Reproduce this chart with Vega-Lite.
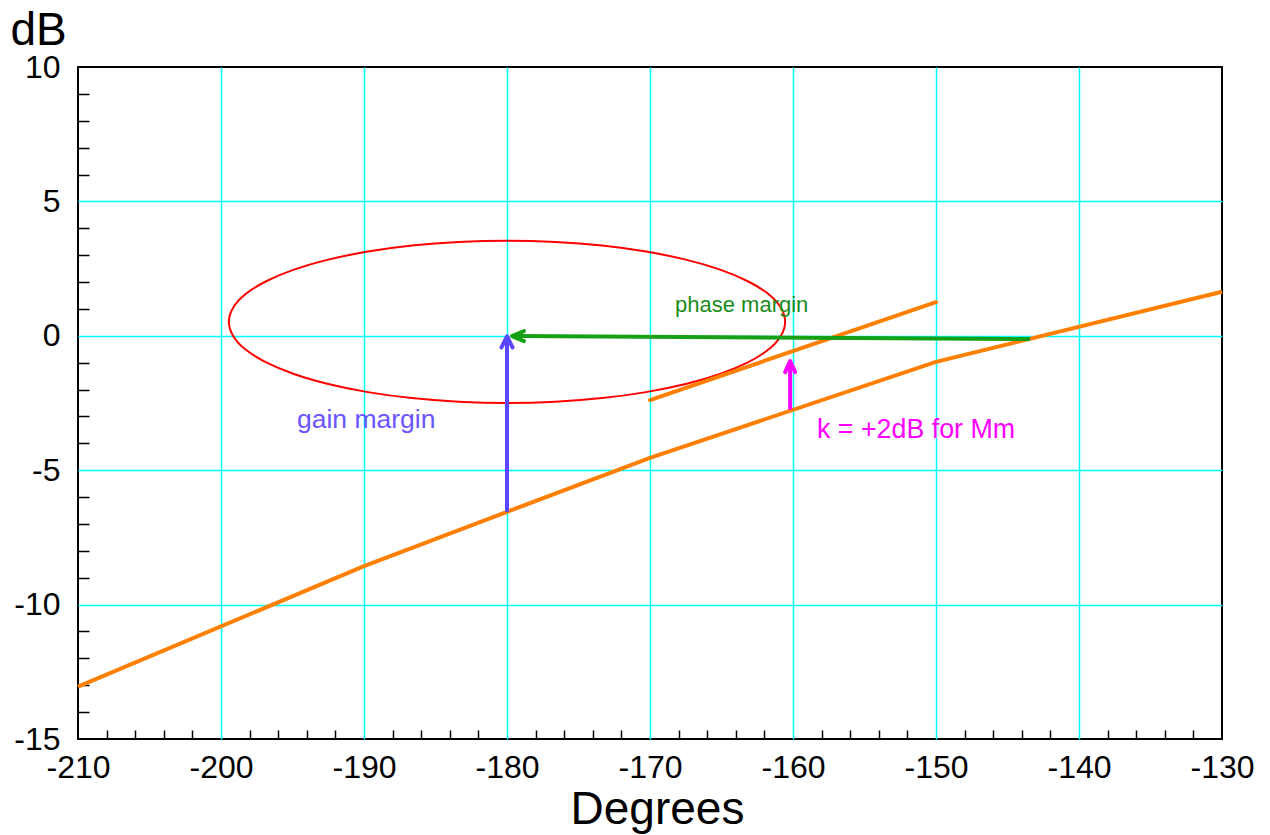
{
  "$schema": "https://vega.github.io/schema/vega-lite/v6.json",
  "width": 1144,
  "height": 672,
  "autosize": {"type": "none"},
  "padding": {"left": 78, "top": 67, "right": 48, "bottom": 96},
  "background": "white",
  "config": {"view": {"stroke": "#000000", "strokeWidth": 2}, "font": "Liberation Sans"},
  "datasets": {
    "curve": [
      {"name": "curve", "x": -210, "y": -13.05},
      {"name": "curve", "x": -190, "y": -8.57},
      {"name": "curve", "x": -180, "y": -6.55},
      {"name": "curve", "x": -170, "y": -4.54},
      {"name": "curve", "x": -150, "y": -0.97},
      {"name": "curve", "x": -130, "y": 1.64}
    ],
    "shifted": [
      {"name": "shifted", "x": -170, "y": -2.39},
      {"name": "shifted", "x": -150, "y": 1.25}
    ],
    "ellipse": [
      {"name": "ellipse", "i": 0, "x": -160.55, "y": 0.52},
      {"name": "ellipse", "i": 1, "x": -160.85, "y": 1.044},
      {"name": "ellipse", "i": 2, "x": -161.72, "y": 1.553},
      {"name": "ellipse", "i": 3, "x": -163.16, "y": 2.03},
      {"name": "ellipse", "i": 4, "x": -165.10, "y": 2.461},
      {"name": "ellipse", "i": 5, "x": -167.50, "y": 2.833},
      {"name": "ellipse", "i": 6, "x": -170.28, "y": 3.135},
      {"name": "ellipse", "i": 7, "x": -173.35, "y": 3.358},
      {"name": "ellipse", "i": 8, "x": -176.62, "y": 3.494},
      {"name": "ellipse", "i": 9, "x": -180.00, "y": 3.54},
      {"name": "ellipse", "i": 10, "x": -183.38, "y": 3.494},
      {"name": "ellipse", "i": 11, "x": -186.65, "y": 3.358},
      {"name": "ellipse", "i": 12, "x": -189.73, "y": 3.135},
      {"name": "ellipse", "i": 13, "x": -192.50, "y": 2.833},
      {"name": "ellipse", "i": 14, "x": -194.90, "y": 2.461},
      {"name": "ellipse", "i": 15, "x": -196.84, "y": 2.03},
      {"name": "ellipse", "i": 16, "x": -198.28, "y": 1.553},
      {"name": "ellipse", "i": 17, "x": -199.15, "y": 1.044},
      {"name": "ellipse", "i": 18, "x": -199.45, "y": 0.52},
      {"name": "ellipse", "i": 19, "x": -199.15, "y": -0.004},
      {"name": "ellipse", "i": 20, "x": -198.28, "y": -0.513},
      {"name": "ellipse", "i": 21, "x": -196.84, "y": -0.99},
      {"name": "ellipse", "i": 22, "x": -194.90, "y": -1.421},
      {"name": "ellipse", "i": 23, "x": -192.50, "y": -1.793},
      {"name": "ellipse", "i": 24, "x": -189.73, "y": -2.095},
      {"name": "ellipse", "i": 25, "x": -186.65, "y": -2.318},
      {"name": "ellipse", "i": 26, "x": -183.38, "y": -2.454},
      {"name": "ellipse", "i": 27, "x": -180.00, "y": -2.50},
      {"name": "ellipse", "i": 28, "x": -176.62, "y": -2.454},
      {"name": "ellipse", "i": 29, "x": -173.35, "y": -2.318},
      {"name": "ellipse", "i": 30, "x": -170.28, "y": -2.095},
      {"name": "ellipse", "i": 31, "x": -167.50, "y": -1.793},
      {"name": "ellipse", "i": 32, "x": -165.10, "y": -1.421},
      {"name": "ellipse", "i": 33, "x": -163.16, "y": -0.99},
      {"name": "ellipse", "i": 34, "x": -161.72, "y": -0.513},
      {"name": "ellipse", "i": 35, "x": -160.85, "y": -0.004}
    ],
    "arrows": [
      {"name": "gain", "x": -180, "y": -6.55},
      {"name": "gain", "x": -180, "y": -0.15},
      {"name": "phase", "x": -143.43, "y": -0.12},
      {"name": "phase", "x": -179.4, "y": -0.01},
      {"name": "k", "x": -160.2, "y": -2.75},
      {"name": "k", "x": -160.2, "y": -1.05}
    ],
    "heads": [
      {"name": "gain", "x": -180, "y": -0.02},
      {"name": "phase", "x": -179.65, "y": -0.01},
      {"name": "k", "x": -160.2, "y": -0.94}
    ],
    "labels": [
      {"name": "phase text", "x": -168.25, "y": 0.885, "label": "phase margin"},
      {"name": "gain text", "x": -194.69, "y": -3.43, "label": "gain margin"},
      {"name": "k text", "x": -158.32, "y": -3.8, "label": "k = +2dB for Mm"}
    ]
  },
  "encoding": {
    "x": {
      "field": "x",
      "type": "quantitative",
      "scale": {"domain": [-210, -130], "nice": false, "zero": false},
      "axis": {
        "values": [-210,-208,-206,-204,-202,-200,-198,-196,-194,-192,-190,-188,-186,-184,-182,-180,-178,-176,-174,-172,-170,-168,-166,-164,-162,-160,-158,-156,-154,-152,-150,-148,-146,-144,-142,-140,-138,-136,-134,-132,-130],
        "labelExpr": "datum.value % 10 === 0 ? '' + datum.value : ''",
        "labelFont": "Liberation Sans",
        "labelFontSize": 32,
        "labelColor": "#000000",
        "labelPadding": 22,
        "labelFlush": false,
        "labelOverlap": false,
        "labelBound": false,
        "tickSize": -9,
        "tickColor": "#000000",
        "tickWidth": 1.5,
        "tickOpacity": {"condition": {"test": "datum.value % 10 === 0", "value": 0}, "value": 1},
        "grid": true,
        "gridColor": "#00ffff",
        "gridWidth": 1.5,
        "gridOpacity": {"condition": {"test": "datum.value % 10 === 0 && datum.value > -210 && datum.value < -130", "value": 1}, "value": 0},
        "domain": false,
        "title": "Degrees",
        "titleFont": "Liberation Sans",
        "titleFontSize": 46,
        "titleFontWeight": "normal",
        "titleColor": "#000000",
        "titleAlign": "center",
        "titleBaseline": "alphabetic",
        "titleX": 579,
        "titleY": 84
      }
    },
    "y": {
      "field": "y",
      "type": "quantitative",
      "scale": {"domain": [-15, 10], "nice": false, "zero": false},
      "axis": {
        "values": [-15,-14,-13,-12,-11,-10,-9,-8,-7,-6,-5,-4,-3,-2,-1,0,1,2,3,4,5,6,7,8,9,10],
        "labelExpr": "datum.value % 5 === 0 ? '' + datum.value : ''",
        "labelFont": "Liberation Sans",
        "labelFontSize": 32,
        "labelColor": "#000000",
        "labelPadding": 29,
        "labelFlush": false,
        "labelOverlap": false,
        "labelBound": false,
        "tickSize": -11,
        "tickColor": "#000000",
        "tickWidth": 1.5,
        "tickOpacity": {"condition": {"test": "datum.value % 5 === 0", "value": 0}, "value": 1},
        "grid": true,
        "gridColor": "#00ffff",
        "gridWidth": 1.5,
        "gridOpacity": {"condition": {"test": "datum.value % 5 === 0 && datum.value > -15 && datum.value < 10", "value": 1}, "value": 0},
        "domain": false,
        "title": "dB",
        "titleFont": "Liberation Sans",
        "titleFontSize": 46,
        "titleFontWeight": "normal",
        "titleColor": "#000000",
        "titleAngle": 0,
        "titleAlign": "left",
        "titleBaseline": "alphabetic",
        "titleX": -68,
        "titleY": -23
      }
    },
    "color": {
      "field": "name",
      "type": "nominal",
      "legend": null,
      "scale": {
        "domain": ["curve", "shifted", "ellipse", "gain", "phase", "k", "gain text", "phase text", "k text"],
        "range": ["#ff8000", "#ff8000", "#ff0000", "#5a46ff", "#16a016", "#ff00ff", "#6a55ff", "#1a8c1a", "#ff00ff"]
      }
    }
  },
  "layer": [
    {
      "data": {"name": "ellipse"},
      "mark": {"type": "line", "strokeWidth": 2, "interpolate": "cardinal-closed"},
      "encoding": {"order": {"field": "i", "type": "quantitative"}}
    },
    {
      "data": {"name": "curve"},
      "mark": {"type": "line", "strokeWidth": 4},
      "encoding": {}
    },
    {
      "data": {"name": "shifted"},
      "mark": {"type": "line", "strokeWidth": 4, "strokeCap": "round"},
      "encoding": {}
    },
    {
      "data": {"name": "arrows"},
      "mark": {"type": "line", "strokeWidth": 4},
      "encoding": {"detail": {"field": "name", "type": "nominal"}}
    },
    {
      "data": {"name": "heads"},
      "transform": [{"filter": "datum.name === 'gain'"}],
      "mark": {"type": "point", "shape": "M -1 2 L 0 0 L 1 2", "size": 121, "filled": false, "strokeWidth": 4, "opacity": 1, "strokeCap": "round", "strokeJoin": "round"}
    },
    {
      "data": {"name": "heads"},
      "transform": [{"filter": "datum.name === 'k'"}],
      "mark": {"type": "point", "shape": "M -1 2.2 L 0 0 L 1 2.2", "size": 100, "filled": false, "strokeWidth": 4, "opacity": 1, "strokeCap": "round", "strokeJoin": "round"}
    },
    {
      "data": {"name": "heads"},
      "transform": [{"filter": "datum.name === 'phase'"}],
      "mark": {"type": "point", "shape": "M 2.4 -1 L 0 0 L 2.4 1", "size": 100, "filled": false, "strokeWidth": 4, "opacity": 1, "strokeCap": "round", "strokeJoin": "round"}
    },
    {
      "data": {"name": "labels"},
      "transform": [{"filter": "datum.name === 'phase text'"}],
      "mark": {"type": "text", "align": "left", "baseline": "alphabetic", "fontSize": 22, "font": "Liberation Sans"},
      "encoding": {"text": {"field": "label"}}
    },
    {
      "data": {"name": "labels"},
      "transform": [{"filter": "datum.name === 'gain text'"}],
      "mark": {"type": "text", "align": "left", "baseline": "alphabetic", "fontSize": 26.5, "font": "Liberation Sans"},
      "encoding": {"text": {"field": "label"}}
    },
    {
      "data": {"name": "labels"},
      "transform": [{"filter": "datum.name === 'k text'"}],
      "mark": {"type": "text", "align": "left", "baseline": "alphabetic", "fontSize": 26.8, "font": "Liberation Sans"},
      "encoding": {"text": {"field": "label"}}
    }
  ]
}
